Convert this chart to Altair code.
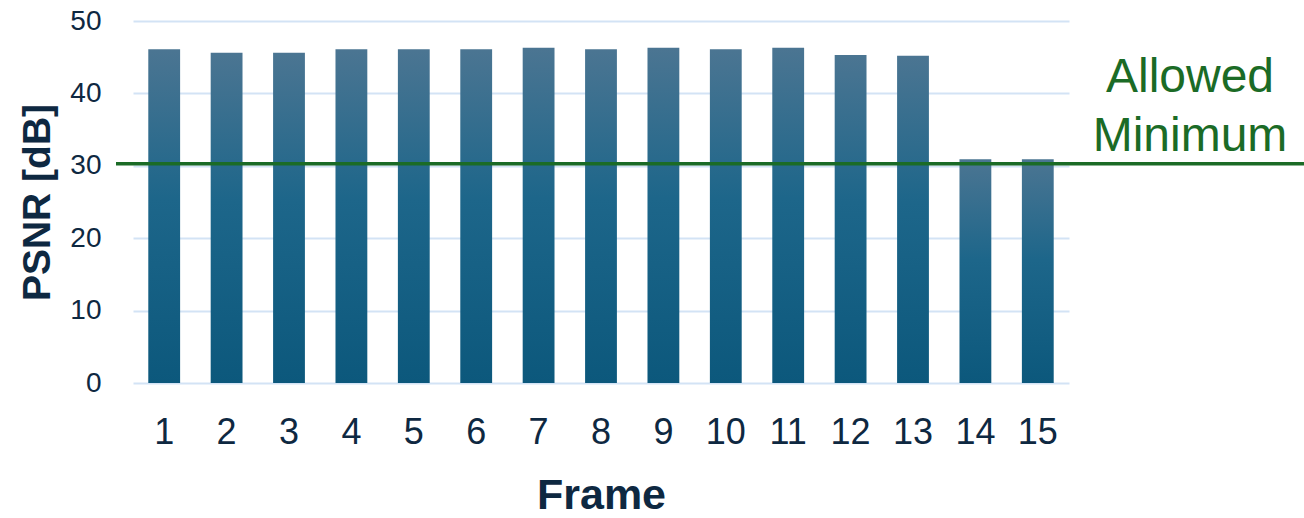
import altair as alt
import pandas as pd

frames = [str(i) for i in range(1, 16)]
psnr = [46.1, 45.6, 45.6, 46.1, 46.1, 46.1, 46.3, 46.1, 46.3, 46.1, 46.3, 45.3, 45.2, 30.9, 30.9]
threshold = 30.3
threshold_label = ["Allowed", "Minimum"]
y_ticks = [0, 10, 20, 30, 40, 50]

df = pd.DataFrame({"Frame": frames, "PSNR": psnr})
df_thr = pd.DataFrame({"thr": [threshold]})

W, H = 936, 362
FONT = "Liberation Sans"
NAVY = "#0e2841"
GREEN = "#1b6b26"

grad = alt.Gradient(
    gradient="linear",
    x1=0, x2=0, y1=0, y2=1,
    stops=[
        alt.GradientStop(offset=0, color="#4b7592"),
        alt.GradientStop(offset=0.45, color="#1d668a"),
        alt.GradientStop(offset=1, color="#0c587c"),
    ],
)

bars = alt.Chart(df).mark_bar(fill=grad).encode(
    x=alt.X(
        "Frame:N",
        sort=frames,
        scale=alt.Scale(paddingInner=0.49, paddingOuter=0.245),
        axis=alt.Axis(
            title="Frame",
            labelAngle=0,
            labelFontSize=36,
            labelColor=NAVY,
            labelFont=FONT,
            labelPadding=32,
            titleFontSize=43,
            titleFont=FONT,
            titleFontWeight="bold",
            titleColor=NAVY,
            titlePadding=24,
            domain=False,
            ticks=False,
            grid=False,
        ),
    ),
    y=alt.Y(
        "PSNR:Q",
        scale=alt.Scale(domain=[0, 50]),
        axis=alt.Axis(
            title="PSNR [dB]",
            values=y_ticks,
            labelFontSize=28,
            labelColor=NAVY,
            labelFont=FONT,
            labelPadding=32,
            titleFontSize=39,
            titleFont=FONT,
            titleFontWeight="bold",
            titleColor=NAVY,
            titlePadding=12,
            domain=False,
            ticks=False,
            grid=True,
            gridColor="#d3e3f5",
            gridWidth=2,
        ),
    ),
)

rule = alt.Chart(df_thr).mark_rule(color=GREEN, strokeWidth=3.5).encode(
    y="thr:Q",
    x=alt.value(-17),
    x2=alt.value(W + 240),
)

label = alt.Chart(df_thr).mark_text(
    text=threshold_label,
    color=GREEN,
    font=FONT,
    fontSize=48,
    lineHeight=59,
    align="center",
    baseline="alphabetic",
).encode(
    x=alt.value(1190 - 133),
    y=alt.value(92 - 21),
)

chart = (
    alt.layer(bars, rule, label)
    .properties(
        width=W,
        height=H,
        background="white",
        autosize=alt.AutoSizeParams(type="none"),
        padding={"left": 133, "top": 21, "right": 235, "bottom": 135},
    )
    .configure_view(strokeWidth=0, stroke="transparent")
)

chart.save("out.html", embed_options={"renderer": "svg", "actions": False})
